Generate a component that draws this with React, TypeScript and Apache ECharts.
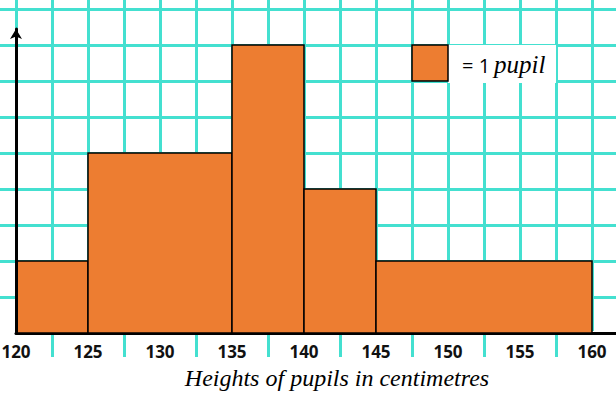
import React, { useEffect, useRef } from "react";
import * as echarts from "echarts";

const binStart = [120, 125, 135, 140, 145];
const binEnd = [125, 135, 140, 145, 160];
const squares = [2, 5, 8, 4, 2];
const tickLabels = [120, 125, 130, 135, 140, 145, 150, 155, 160];
const axisTitle = "Heights of pupils in centimetres";
const keyPrefix = "= 1 ";
const keyWord = "pupil";

const GRID = "#44E0D0";
const ORANGE = "#ED7D31";

export default function App() {
  const ref = useRef<HTMLDivElement>(null);
  useEffect(() => {
    if (!ref.current) return;
    const chart = echarts.init(ref.current, undefined, { renderer: "svg" });
    const data = binStart.map((s, i) => [s, binEnd[i], squares[i]]);
    const option: any = {
      animation: false,
      backgroundColor: "#fff",
      grid: [
        { left: 16, right: -20, top: -20, bottom: 64, outerBoundsMode: "none", containLabel: false },
        { left: 16, right: 0, top: 29, bottom: 64, outerBoundsMode: "none", containLabel: false },
      ],
      xAxis: [
        {
          type: "value",
          gridIndex: 0,
          min: 120,
          max: 120 + 620 / 14.4,
          interval: 2.5,
          z: 0,
          axisLine: { show: false },
          axisTick: { show: true, length: 24, lineStyle: { color: GRID, width: 3 } },
          splitLine: { show: true, lineStyle: { color: GRID, width: 3 } },
          axisLabel: {
            margin: 5,
            formatter: (v: number) =>
              tickLabels.indexOf(Math.round(v * 1000) / 1000) >= 0 ? `{a|${v}}` : "",
            rich: {
              a: {
                backgroundColor: "#fff",
                padding: [12, 3, 3, 3],
                fontFamily: "Open Sans",
                fontWeight: "bold",
                fontSize: 17,
                lineHeight: 18,
                color: "#111",
              },
            },
          },
        },
        {
          type: "value",
          gridIndex: 1,
          min: 0,
          max: 1,
          z: 2,
          axisLine: { show: true, onZero: false, lineStyle: { color: "#000", width: 3 } },
          axisTick: { show: false },
          axisLabel: { show: false },
          splitLine: { show: false },
        },
      ],
      yAxis: [
        {
          type: "value",
          gridIndex: 0,
          min: 0,
          max: 353 / 36,
          interval: 1,
          z: 0,
          axisLine: { show: false },
          axisTick: { show: true, length: 16, lineStyle: { color: GRID, width: 3 } },
          axisLabel: { show: false },
          splitLine: { show: true, lineStyle: { color: GRID, width: 3 } },
        },
        {
          type: "value",
          gridIndex: 1,
          min: 0,
          max: 1,
          z: 10,
          axisLine: {
            show: true,
            onZero: false,
            symbol: ["none", "arrow"],
            symbolSize: [9, 10],
            lineStyle: { color: "#000", width: 3 },
          },
          axisTick: { show: false },
          axisLabel: { show: false },
          splitLine: { show: false },
        },
      ],
      series: [
        {
          type: "custom",
          xAxisIndex: 0,
          yAxisIndex: 0,
          data,
          encode: { x: [0, 1], y: 2 },
          renderItem: (params: any, api: any) => {
            const s = api.value(0);
            const e = api.value(1);
            const h = api.value(2);
            const p0 = api.coord([s, h]);
            const p1 = api.coord([e, 0]);
            return {
              type: "rect",
              shape: { x: p0[0], y: p0[1], width: p1[0] - p0[0], height: p1[1] - p0[1] },
              style: { fill: ORANGE, stroke: "#000", lineWidth: 1.5 },
            };
          },
          z: 3,
        },
      ],
      graphic: [
        {
          type: "rect",
          z: 20,
          shape: { x: 448, y: 45, width: 108, height: 38 },
          style: { fill: "#fff" },
        },
        {
          type: "rect",
          z: 21,
          shape: { x: 412, y: 45, width: 36, height: 36 },
          style: { fill: ORANGE, stroke: "#000", lineWidth: 1.5 },
        },
        {
          type: "text",
          z: 22,
          x: 462,
          y: 65,
          style: {
            text: keyPrefix,
            verticalAlign: "middle",
            font: "20px 'Open Sans'",
            fill: "#000",
          },
        },
        {
          type: "text",
          z: 22,
          x: 494,
          y: 64,
          style: {
            text: keyWord,
            verticalAlign: "middle",
            font: "italic 25px 'Liberation Serif'",
            fill: "#000",
          },
        },
        {
          type: "text",
          z: 22,
          x: 337,
          y: 378,
          style: {
            text: axisTitle,
            textAlign: "center",
            verticalAlign: "middle",
            font: "italic 24px 'Liberation Serif'",
            fill: "#000",
          },
        },
      ],
    };
    chart.setOption(option);
    return () => chart.dispose();
  }, []);
  return (
    <div
      ref={ref}
      style={{ position: "absolute", left: 0, top: 0, width: 616, height: 397, background: "#fff" }}
    />
  );
}
